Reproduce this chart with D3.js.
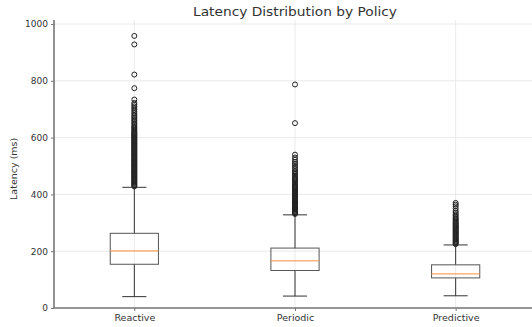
<!DOCTYPE html>
<html>
<head>
<meta charset="utf-8">
<script src="https://cdn.jsdelivr.net/npm/d3@7"></script>
<style>
  body { margin: 0; background: #fff; }
  text { font-family: "DejaVu Sans", sans-serif; fill: #333; }
</style>
</head>
<body>
<div id="chart"></div>
<script>
// ---------------- data ----------------
const policies = ["Reactive", "Periodic", "Predictive"];
// five-number summary per policy: lower whisker, q1, median, q3, upper whisker
const whiskLo = [40, 42, 43];
const q1 = [154, 132, 106];
const median = [201, 166, 120];
const q3 = [263, 211, 152];
const whiskHi = [425, 328, 222];
// outliers (ms)
const outReactive = [428, 431, 434, 437, 440, 443, 446, 449, 452, 455, 458, 461, 464, 467, 470, 473, 476, 479,
  482, 485, 488, 491, 494, 497, 500, 503, 506, 509, 512, 515, 518, 521, 524, 527, 530, 533, 536, 539, 542,
  545, 548, 551, 554, 557, 560, 563, 566, 569, 572, 575, 578, 581, 584, 587, 590, 593, 596, 599, 602, 605,
  608, 611, 614, 617, 620, 624, 628, 632, 636, 640, 645, 650, 655, 660, 665, 670, 675, 680, 686, 692, 698,
  704, 710, 716, 722, 734, 774, 822, 928, 958];
const outPeriodic = [331, 334, 337, 340, 343, 346, 349, 352, 355, 358, 361, 364, 367, 370, 373, 376, 379, 382,
  385, 388, 391, 394, 397, 400, 403, 406, 409, 412, 415, 418, 421, 424, 427, 430, 434, 438, 442, 446, 450,
  454, 458, 462, 467, 472, 477, 482, 488, 494, 500, 507, 514, 522, 530, 540, 651, 787];
const outPredictive = [225, 228, 231, 234, 237, 240, 243, 246, 249, 252, 255, 258, 261, 264, 267, 270, 273,
  276, 279, 282, 285, 288, 291, 294, 297, 300, 304, 308, 312, 316, 320, 325, 330, 336, 342, 350, 358, 364,
  370];
const outliers = [outReactive, outPeriodic, outPredictive];
const yTicks = [0, 200, 400, 600, 800, 1000];

//---------------------------------------------layout-----------------------------------------
const W = 532, H = 327;
const margin = {top: 20, right: -4, bottom: 19, left: 54};

const svg = d3.select("#chart")
  .append("svg")
    .attr("width", W)
    .attr("height", H);

const x = d3.scaleLinear().domain([0.5, 3.5]).range([margin.left, W - margin.right]);
const y = d3.scaleLinear().domain([0, 1000]).range([H - margin.bottom, 24]);
const boxW = x(1.3) - x(1);

// grid
svg.append("g")
  .selectAll("line.hg")
  .data(yTicks)
  .enter()
  .append("line")
    .attr("x1", margin.left).attr("x2", W)
    .attr("y1", d => y(d)).attr("y2", d => y(d))
    .attr("stroke", "#e4e4e4").attr("stroke-width", 0.8);

svg.append("g")
  .selectAll("line.vg")
  .data(policies)
  .enter()
  .append("line")
    .attr("x1", (d, i) => x(i + 1)).attr("x2", (d, i) => x(i + 1))
    .attr("y1", margin.top).attr("y2", y(0))
    .attr("stroke", "#e4e4e4").attr("stroke-width", 0.8);

// axes
const yAxis = svg.append("g")
  .attr("transform", "translate(" + margin.left + ",0)")
  .call(d3.axisLeft(y).tickValues(yTicks).tickSize(3).tickPadding(3).tickFormat(d3.format("d")));
yAxis.select(".domain").remove();
yAxis.selectAll("text").style("font-size", "9px").attr("fill", "#444");
yAxis.selectAll("line").attr("stroke", "#777");

const xAxis = svg.append("g")
  .attr("transform", "translate(0," + y(0) + ")")
  .call(d3.axisBottom(x).tickValues([1, 2, 3]).tickSize(3).tickPadding(3)
    .tickFormat((d) => policies[d - 1]));
xAxis.select(".domain").remove();
xAxis.selectAll("text").style("font-size", "9.5px").attr("fill", "#444");
xAxis.selectAll("line").attr("stroke", "#777");

// spines
svg.append("line")
  .attr("x1", margin.left).attr("x2", margin.left)
  .attr("y1", margin.top).attr("y2", y(0))
  .attr("stroke", "#777").attr("stroke-width", 1.6);
svg.append("line")
  .attr("x1", margin.left).attr("x2", W)
  .attr("y1", y(0)).attr("y2", y(0))
  .attr("stroke", "#777").attr("stroke-width", 1.6);

//---------------------------------------------boxes-----------------------------------------
const boxes = svg.selectAll("g.box")
  .data(policies)
  .enter()
  .append("g")
    .attr("class", "box");

boxes.append("line") // lower whisker
  .attr("x1", (d, i) => x(i + 1)).attr("x2", (d, i) => x(i + 1))
  .attr("y1", (d, i) => y(whiskLo[i])).attr("y2", (d, i) => y(q1[i]))
  .attr("stroke", "#333").attr("stroke-width", 1);
boxes.append("line") // upper whisker
  .attr("x1", (d, i) => x(i + 1)).attr("x2", (d, i) => x(i + 1))
  .attr("y1", (d, i) => y(q3[i])).attr("y2", (d, i) => y(whiskHi[i]))
  .attr("stroke", "#333").attr("stroke-width", 1);
boxes.append("line") // lower cap
  .attr("x1", (d, i) => x(i + 1) - boxW / 4).attr("x2", (d, i) => x(i + 1) + boxW / 4)
  .attr("y1", (d, i) => y(whiskLo[i])).attr("y2", (d, i) => y(whiskLo[i]))
  .attr("stroke", "#333").attr("stroke-width", 1);
boxes.append("line") // upper cap
  .attr("x1", (d, i) => x(i + 1) - boxW / 4).attr("x2", (d, i) => x(i + 1) + boxW / 4)
  .attr("y1", (d, i) => y(whiskHi[i])).attr("y2", (d, i) => y(whiskHi[i]))
  .attr("stroke", "#333").attr("stroke-width", 1);
boxes.append("rect")
  .attr("x", (d, i) => x(i + 1) - boxW / 2)
  .attr("width", boxW)
  .attr("y", (d, i) => y(q3[i]))
  .attr("height", (d, i) => y(q1[i]) - y(q3[i]))
  .attr("fill", "none").attr("stroke", "#555").attr("stroke-width", 1);
boxes.append("line") // median
  .attr("x1", (d, i) => x(i + 1) - boxW / 2).attr("x2", (d, i) => x(i + 1) + boxW / 2)
  .attr("y1", (d, i) => y(median[i])).attr("y2", (d, i) => y(median[i]))
  .attr("stroke", "#ff8c3a").attr("stroke-width", 1);

boxes.each(function(d, i) {
  d3.select(this).selectAll("circle")
    .data(outliers[i])
    .enter()
    .append("circle")
      .attr("cx", x(i + 1))
      .attr("cy", v => y(v))
      .attr("r", 2.5)
      .attr("fill", "none")
      .attr("stroke", "#222")
      .attr("stroke-width", 1);
});

//---------------------------------------------labels-----------------------------------------
svg.append("text")
  .attr("x", 295).attr("y", 16)
  .attr("text-anchor", "middle")
  .attr("textLength", 204)
  .attr("lengthAdjust", "spacingAndGlyphs")
  .style("font-size", "11.5px")
  .text("Latency Distribution by Policy");

svg.append("text")
  .attr("transform", "translate(17," + y(490) + ") rotate(-90)")
  .attr("text-anchor", "middle")
  .style("font-size", "9.5px")
  .text("Latency (ms)");
</script>
</body>
</html>
